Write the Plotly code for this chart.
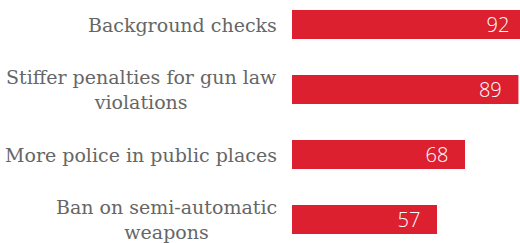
import plotly.graph_objects as go

categories = ["Background checks", "Stiffer penalties for gun law<br>violations",
              "More police in public places", "Ban on semi-automatic<br>weapons"]
values = [92, 89, 68, 57]
value_labels = [str(v) for v in values]

BAR_COLOR = "#dc2030"
LABEL_COLOR = "#666666"
PAD = "\u00a0\u00a0\u2009"

fig = go.Figure()
fig.add_trace(go.Bar(
    x=values,
    y=list(range(len(categories))),
    orientation="h",
    marker=dict(color=BAR_COLOR, line=dict(width=0)),
    text=[t + PAD for t in value_labels],
    textposition="inside",
    insidetextanchor="end",
    textangle=0,
    textfont=dict(family="Open Sans", size=20, color="white", weight=300),
    cliponaxis=True,
    hoverinfo="skip",
))

for i, c in enumerate(categories):
    fig.add_annotation(
        x=0, xref="paper", xanchor="right", xshift=-13,
        y=i, yref="y", yanchor="middle",
        text=c, showarrow=False, align="center",
        font=dict(family="DejaVu Serif", size=19, color=LABEL_COLOR, weight=300),
    )

fig.update_layout(
    width=520, height=243,
    margin=dict(l=292, r=0, t=0, b=0),
    paper_bgcolor="white", plot_bgcolor="white",
    bargap=0.554,
    showlegend=False,
    uniformtext=dict(minsize=20, mode="show"),
    xaxis=dict(range=[0, 89.62], visible=False, fixedrange=True),
    yaxis=dict(range=[3.3615, -0.377], visible=False, fixedrange=True),
)

fig.write_html("out.html", config={"displayModeBar": False},
               post_script="document.body.style.margin='0';document.body.style.overflow='hidden';")
